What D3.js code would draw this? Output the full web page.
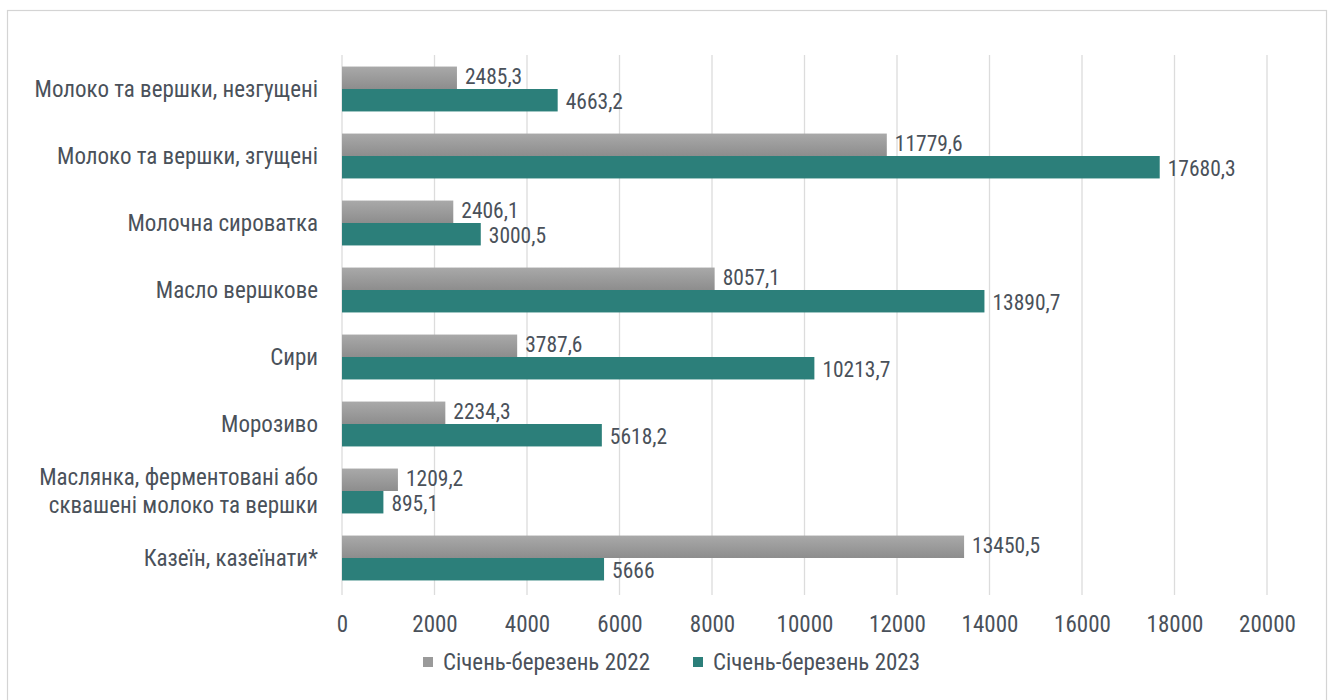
<!DOCTYPE html>
<html><head><meta charset="utf-8">
<script src="https://cdn.jsdelivr.net/npm/d3@7"></script>
<style>
html,body{margin:0;padding:0;background:#fff;}
svg{display:block;}
text{font-family:"Liberation Sans Narrow","Roboto Condensed","Liberation Sans",Arial,sans-serif;fill:#4a515a;}
</style></head>
<body><svg id="chart" width="1332" height="700"></svg>
<script>
const categories = [
  ["Молоко та вершки, незгущені"],
  ["Молоко та вершки, згущені"],
  ["Молочна сироватка"],
  ["Масло вершкове"],
  ["Сири"],
  ["Морозиво"],
  ["Маслянка, ферментовані або", "сквашені молоко та вершки"],
  ["Казеїн, казеїнати*"]
];
const seriesNames = ["Січень-березень 2022", "Січень-березень 2023"];
const values2022 = [2485.3, 11779.6, 2406.1, 8057.1, 3787.6, 2234.3, 1209.2, 13450.5];
const values2023 = [4663.2, 17680.3, 3000.5, 13890.7, 10213.7, 5618.2, 895.1, 5666];
const labels2022 = ["2485,3", "11779,6", "2406,1", "8057,1", "3787,6", "2234,3", "1209,2", "13450,5"];
const labels2023 = ["4663,2", "17680,3", "3000,5", "13890,7", "10213,7", "5618,2", "895,1", "5666"];
const xTicks = [0, 2000, 4000, 6000, 8000, 10000, 12000, 14000, 16000, 18000, 20000];

const svg = d3.select("#chart");
const colors = ["url(#grayGrad)", "#2c7f7a"];
const legendColors = ["#9a9a9a", "#2c7f7a"];

const defs = svg.append("defs");
const gg = defs.append("linearGradient").attr("id", "grayGrad").attr("x1", 0).attr("y1", 0).attr("x2", 0).attr("y2", 1);
gg.append("stop").attr("offset", "0%").attr("stop-color", "#a9a9a9");
gg.append("stop").attr("offset", "100%").attr("stop-color", "#8d8d8d");

// frame
svg.append("rect").attr("x", 7.5).attr("y", 10.5).attr("width", 1319).attr("height", 720)
  .attr("fill", "none").attr("stroke", "#d4d4d4").attr("stroke-width", 1.2);

const x = d3.scaleLinear().domain([0, 20000]).range([342, 1267]);
const keys = categories.map(c => c.join(" "));
const y = d3.scaleBand().domain(keys).range([55.5, 591.5]).paddingInner(0.33).paddingOuter(0.165);
const ys = d3.scaleBand().domain(seriesNames).range([0, y.bandwidth()]);

// gridlines
svg.append("g").selectAll("line").data(xTicks).join("line")
  .attr("x1", d => x(d)).attr("x2", d => x(d))
  .attr("y1", 55).attr("y2", 595)
  .attr("stroke", "#dcdcdc").attr("stroke-width", 1.3);

// x axis labels
const xAxis = d3.axisBottom(x).tickValues(xTicks).tickSize(0).tickPadding(0).tickFormat(d3.format("d"));
const gx = svg.append("g").attr("transform", "translate(0,624)").call(xAxis);
gx.select(".domain").remove();
gx.selectAll("text").attr("font-size", 23).attr("fill", "#4a515a").attr("dy", "0.35em")
  .style("font-family", '"Liberation Sans Narrow","Roboto Condensed","Liberation Sans",Arial,sans-serif');

// category labels
const cl = svg.append("g").selectAll("text").data(categories).join("text")
  .attr("text-anchor", "end").attr("font-size", 23)
  .attr("x", 318);
cl.each(function(d, i) {
  const t = d3.select(this);
  const cy = y(keys[i]) + y.bandwidth() / 2;
  const n = d.length;
  d.forEach((line, j) => {
    t.append("tspan").attr("x", 318)
      .attr("y", cy + (j - (n - 1) / 2) * 28)
      .attr("dy", "0.35em").text(line);
  });
});

// bars
const data = [values2022, values2023];
const labs = [labels2022, labels2023];
seriesNames.forEach((s, si) => {
  const g = svg.append("g");
  g.selectAll("rect").data(data[si]).join("rect")
    .attr("x", x(0))
    .attr("y", (d, i) => y(keys[i]) + ys(s))
    .attr("width", d => x(d) - x(0))
    .attr("height", ys.bandwidth())
    .attr("fill", colors[si]);
  g.selectAll("text").data(data[si]).join("text")
    .attr("x", d => x(d) + 8)
    .attr("y", (d, i) => y(keys[i]) + ys(s) + ys.bandwidth() / 2 + (si === 0 ? -1 : 1))
    .attr("dy", "0.35em")
    .attr("font-size", 21.5)
    .text((d, i) => labs[si][i]);
});

// legend
const legendX = [423, 693];
const lg = svg.append("g");
seriesNames.forEach((s, i) => {
  lg.append("rect").attr("x", legendX[i]).attr("y", 657).attr("width", 10).attr("height", 10)
    .attr("fill", legendColors[i]);
  lg.append("text").attr("x", legendX[i] + 20).attr("y", 662).attr("dy", "0.35em")
    .attr("font-size", 23).text(s);
});
</script>
</body></html>
